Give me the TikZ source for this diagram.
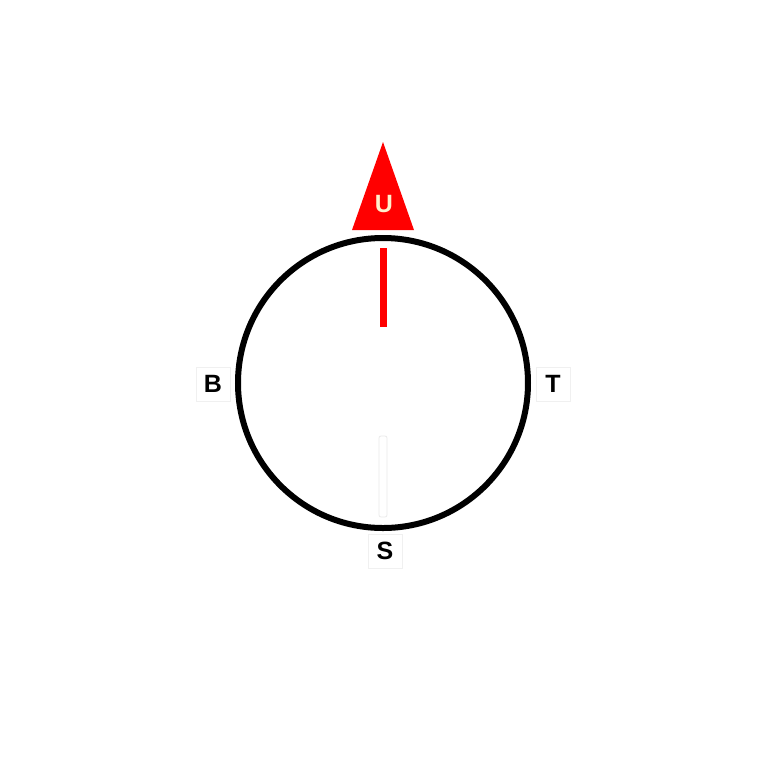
\documentclass[tikz,border=0pt]{standalone}
\usepackage{fontspec}
\setmainfont{Liberation Sans}
\definecolor{needlered}{rgb}{1,0,0}
\definecolor{cream}{RGB}{255,240,205}
\tikzset{
  dirlabel/.style={font=\bfseries\fontsize{12.5}{14}\selectfont, fill=white, draw=black!6,
    line width=0.4pt, minimum size=17pt, inner sep=0pt}
}
\begin{document}
\begin{tikzpicture}[x=0.5pt,y=-0.5pt]
  \useasboundingbox[fill=white] (0,0) rectangle (768,768);
  \draw[line width=3pt] (383,383) circle (145);
  \draw[needlered, line width=3.5pt] (383,248) -- (383,327);
  \draw[black!8, fill=white, line width=0.4pt, rounded corners=1pt] (379,436) rectangle (387,517);
  \fill[needlered] (383,142) -- (414,230) -- (352,230) -- cycle;
  \node[font=\bfseries\fontsize{12.5}{14}\selectfont, text=cream] (u) at (384,204) {U};
  \node[dirlabel] (b) at (213,384) {B};
  \node[dirlabel] (t) at (553,384) {T};
  \node[dirlabel] (s) at (385,551) {S};
\end{tikzpicture}
\end{document}
